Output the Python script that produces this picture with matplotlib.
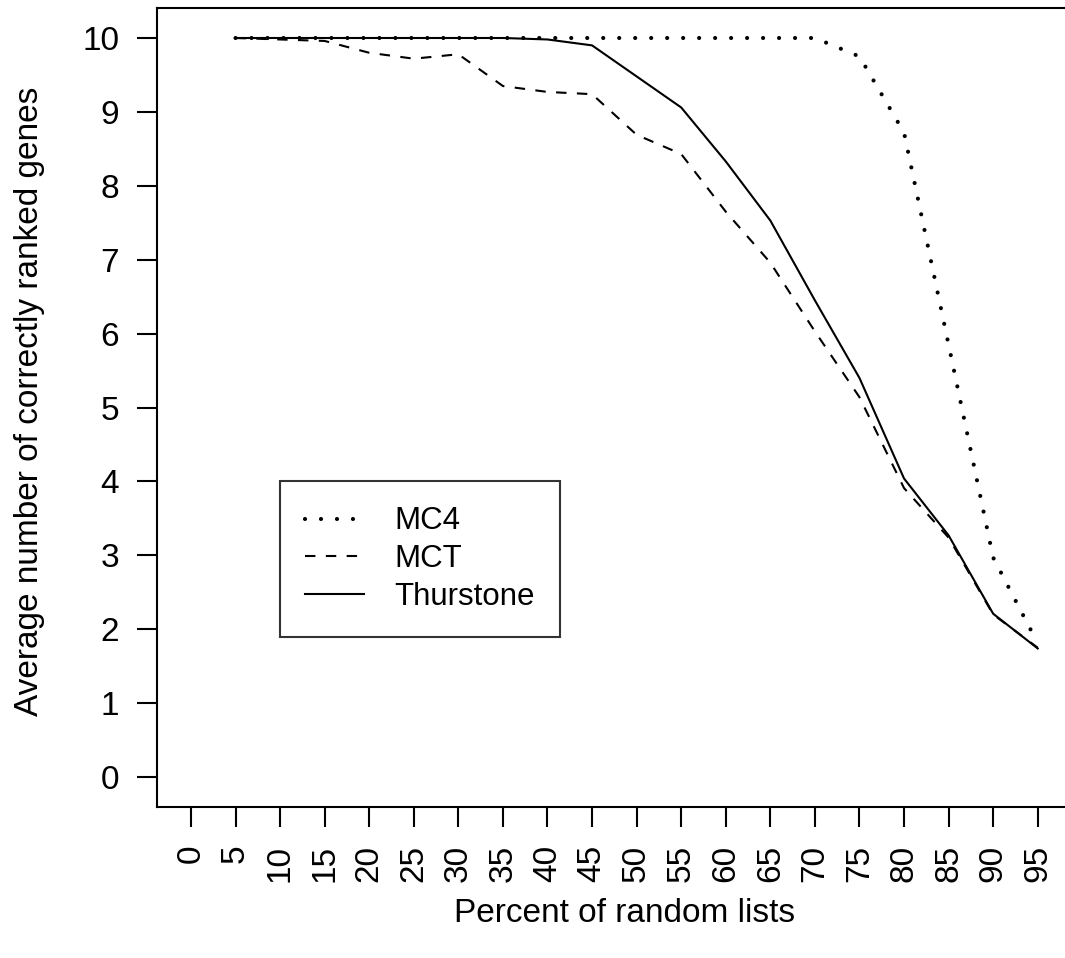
import matplotlib
matplotlib.use("Agg")
import matplotlib.pyplot as plt

plt.rcParams['font.family'] = ['Liberation Sans', 'DejaVu Sans']
plt.rcParams['lines.scale_dashes'] = False

# ---- data ----
pct = [5, 10, 15, 20, 25, 30, 35, 40, 45, 50, 55, 60, 65, 70, 75, 80, 85, 90, 95]
mc4 = [10, 10, 10, 10, 10, 10, 10, 10, 10, 10, 10, 10, 10, 10,
       9.75, 8.72, 5.85, 2.97, 1.81]
mct = [10, 9.98, 9.96, 9.80, 9.72, 9.78, 9.35, 9.27, 9.24, 8.69, 8.43,
       7.65, 6.96, 6.03, 5.14, 3.91, 3.24, 2.20, 1.75]
thurstone = [10, 10, 10, 10, 10, 10, 10, 9.98, 9.90, 9.48, 9.06,
             8.33, 7.53, 6.45, 5.40, 4.04, 3.27, 2.21, 1.74]
xticks = list(range(0, 100, 5))
yticks = list(range(0, 11))
series_names = ["MC4", "MCT", "Thurstone"]

FS = 24
LFS = 22.5
LW = 1.5

fig = plt.figure(figsize=(10.65, 9.58), dpi=100)
ax = fig.add_axes([0.1475, 0.158, 0.8587, 0.8332])

l1, = ax.plot(pct, mc4, color='black', lw=3.0, dashes=(0.01, 11.5),
              dash_capstyle='round', label=series_names[0])
l2, = ax.plot(pct, mct, color='black', lw=LW, dashes=(7.5, 7.5),
              dash_capstyle='butt', label=series_names[1])
l3, = ax.plot(pct, thurstone, color='black', lw=LW, label=series_names[2])

ax.set_xlim(-3.8, 98.8)
ax.set_ylim(-0.4, 10.4)
ax.set_xticks(xticks)
ax.set_xticklabels([str(v) for v in xticks], rotation=90, fontsize=FS)
ax.set_yticks(yticks)
ax.set_yticklabels([str(v) for v in yticks], fontsize=FS)
ax.tick_params(direction='out', length=14.4, width=LW, pad=13, colors='black')
for s in ax.spines.values():
    s.set_linewidth(LW)
    s.set_color('black')

fig.text(625 / 1065, 1 - 913 / 958, "Percent of random lists",
         ha='center', va='center', fontsize=FS)
fig.text(30 / 1065, 1 - 401 / 958, "Average number of correctly ranked genes",
         ha='center', va='center', rotation=90, fontsize=FS)

leg = ax.legend(handles=[l1, l2, l3], loc='upper left',
                bbox_to_anchor=(10, 4), bbox_transform=ax.transData,
                borderaxespad=0, fontsize=LFS, frameon=True, fancybox=False,
                handlelength=1.89, handletextpad=0.96, labelspacing=0.25,
                borderpad=0.8)
leg.get_frame().set_edgecolor('black')
leg.get_frame().set_linewidth(LW)

fig.savefig("out.png", dpi=100)
